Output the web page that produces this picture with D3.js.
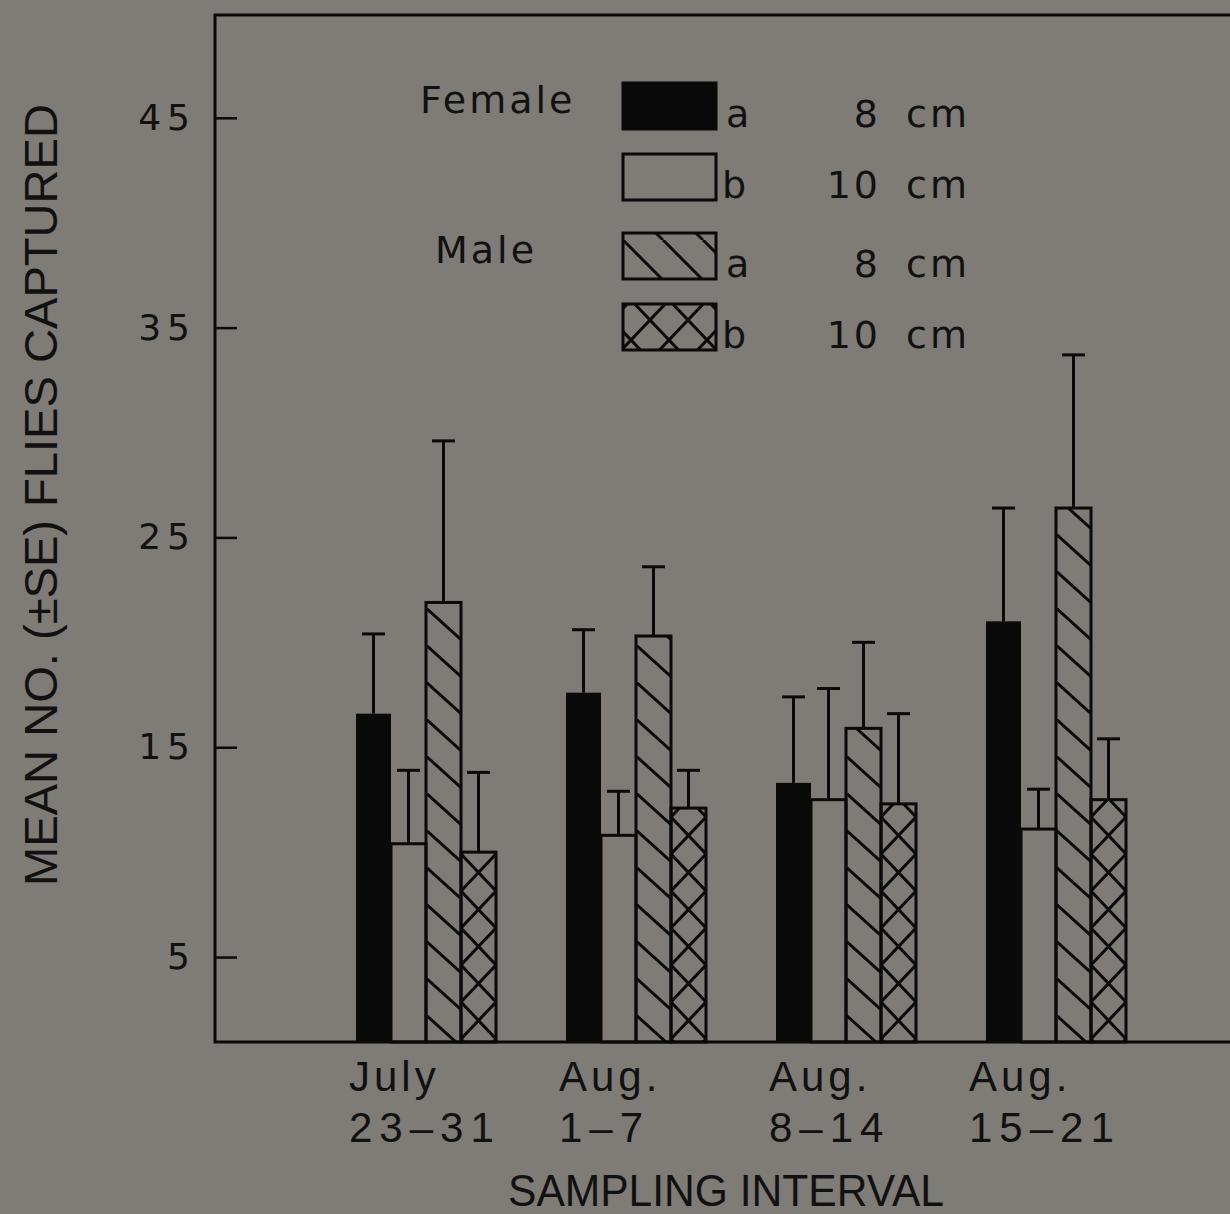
<!DOCTYPE html>
<html>
<head>
<meta charset="utf-8">
<script src="https://cdn.jsdelivr.net/npm/d3@7"></script>
<style>
  html, body { margin: 0; padding: 0; background: #7f7b76; }
  svg { display: block; }
  text { fill: #111; }
</style>
</head>
<body>
<div id="chart"></div>
<script>
/*global d3 */
(function () {
  "use strict";

  // sampling intervals (two-line labels)
  var intervalTop = ["July", "Aug.", "Aug.", "Aug."];
  var intervalBottom = ["23\u201331", "1\u20137", "8\u201314", "15\u201321"];

  // series: sex + trap height
  var seriesKeys = ["femaleA", "femaleB", "maleA", "maleB"];

  // means
  var femaleA = [16.6, 17.6, 13.3, 21.0];
  var femaleB = [10.4, 10.8, 12.5, 11.1];
  var maleA = [21.9, 20.3, 15.9, 26.4];
  var maleB = [10.0, 12.1, 12.3, 12.5];

  // standard errors (upper whisker only)
  var femaleASE = [3.8, 3.0, 4.1, 5.4];
  var femaleBSE = [3.5, 2.1, 5.3, 1.9];
  var maleASE = [7.7, 3.3, 4.1, 7.3];
  var maleBSE = [3.8, 1.8, 4.3, 2.9];

  var yTicks = [5, 15, 25, 35, 45];
  var yDomain = [0.95, 49.9];

  // legend
  var legendSex = ["Female", "", "Male", ""];
  var legendLetter = ["a", "b", "a", "b"];
  var legendSize = ["8 cm", "10 cm", "8 cm", "10 cm"];

  var means = { femaleA: femaleA, femaleB: femaleB, maleA: maleA, maleB: maleB };
  var ses = { femaleA: femaleASE, femaleB: femaleBSE, maleA: maleASE, maleB: maleBSE };

  var width = 1230, height = 1214;
  var left = 215, top = 15, bottom = 1042;
  var sans = "Liberation Sans, Arial, sans-serif";

  var svg = d3.select("#chart").append("svg")
    .attr("width", width)
    .attr("height", height);

  var defs = svg.append("defs");

  var x0 = d3.scaleBand()
    .domain(d3.range(intervalTop.length))
    .range([356, 1126])
    .paddingInner(1 / 3)
    .paddingOuter(0);

  var x1 = d3.scaleBand()
    .domain(seriesKeys)
    .range([0, x0.bandwidth()])
    .padding(0);

  var y = d3.scaleLinear().domain(yDomain).range([bottom, top]);

  // pattern helpers
  function hatchPattern(id, px, py, w, h) {
    var p = defs.append("pattern")
      .attr("id", id)
      .attr("patternUnits", "userSpaceOnUse")
      .attr("x", px).attr("y", py)
      .attr("width", w).attr("height", h);
    p.append("path")
      .attr("d", "M0,0L" + w + "," + h + "M" + (-w) + ",0L0," + h + "M" + w + ",0L" + (2 * w) + "," + h)
      .attr("stroke", "#0a0a0a")
      .attr("stroke-width", 3)
      .attr("fill", "none");
  }

  function crossPattern(id, px, py, w, h) {
    var p = defs.append("pattern")
      .attr("id", id)
      .attr("patternUnits", "userSpaceOnUse")
      .attr("x", px).attr("y", py)
      .attr("width", w).attr("height", h);
    p.append("path")
      .attr("d", "M0,0L" + w + "," + h + "M" + w + ",0L0," + h)
      .attr("stroke", "#0a0a0a")
      .attr("stroke-width", 3)
      .attr("fill", "none");
  }

  function fillFor(key, id) {
    if (key === "femaleA") { return "#0a0a0a"; }
    if (key === "femaleB") { return "none"; }
    return "url(#" + id + ")";
  }

  // build flat bar list
  var bars = [];
  intervalTop.forEach(function (t, i) {
    seriesKeys.forEach(function (k) {
      bars.push({ group: i, key: k, value: means[k][i], se: ses[k][i] });
    });
  });

  bars.forEach(function (d, n) {
    d.x = x0(d.group) + x1(d.key);
    d.w = x1.bandwidth();
    d.id = "pat" + n;
    if (d.key === "maleA") {
      hatchPattern(d.id, d.x, bottom - 27, 41, 37);
    } else if (d.key === "maleB") {
      crossPattern(d.id, d.x, bottom - 40, d.w, 37);
    }
  });

  var plot = svg.append("g");

  plot.selectAll("rect.bar")
    .data(bars)
    .enter().append("rect")
    .attr("class", "bar")
    .attr("x", function (d) { return d.x; })
    .attr("y", function (d) { return y(d.value); })
    .attr("width", function (d) { return d.w; })
    .attr("height", function (d) { return bottom - y(d.value); })
    .attr("fill", function (d) { return fillFor(d.key, d.id); })
    .attr("stroke", "#0a0a0a")
    .attr("stroke-width", function (d) { return d.key === "femaleA" ? 0 : 3; });

  // error bars
  var capW = 23;
  var err = plot.selectAll("g.err")
    .data(bars)
    .enter().append("g")
    .attr("class", "err")
    .attr("stroke", "#0a0a0a")
    .attr("stroke-width", 3);

  err.append("line")
    .attr("x1", function (d) { return d.x + d.w / 2; })
    .attr("x2", function (d) { return d.x + d.w / 2; })
    .attr("y1", function (d) { return y(d.value); })
    .attr("y2", function (d) { return y(d.value + d.se); });

  err.append("line")
    .attr("x1", function (d) { return d.x + d.w / 2 - capW / 2; })
    .attr("x2", function (d) { return d.x + d.w / 2 + capW / 2; })
    .attr("y1", function (d) { return y(d.value + d.se); })
    .attr("y2", function (d) { return y(d.value + d.se); });

  // frame
  svg.append("rect")
    .attr("x", left).attr("y", top)
    .attr("width", 1100).attr("height", bottom - top)
    .attr("fill", "none")
    .attr("stroke", "#0a0a0a")
    .attr("stroke-width", 3);

  // y axis
  var yAxis = d3.axisLeft(y)
    .tickValues(yTicks)
    .tickSize(-22)
    .tickSizeOuter(0)
    .tickPadding(19);

  var gy = svg.append("g")
    .attr("transform", "translate(" + left + ",0)")
    .call(yAxis);
  gy.select(".domain").remove();
  gy.selectAll(".tick line").attr("stroke", "#0a0a0a").attr("stroke-width", 2.5);
  gy.selectAll(".tick text")
    .attr("font-family", "DejaVu Sans, sans-serif")
    .attr("font-size", 36)
    .attr("letter-spacing", 6)
    .attr("fill", "#111");

  // category labels
  var xl = svg.append("g")
    .attr("font-family", sans)
    .attr("font-size", 42);

  xl.selectAll("text.top")
    .data(intervalTop)
    .enter().append("text")
    .attr("class", "top")
    .attr("x", function (d, i) { return x0(i) - 7 - (i === 3 ? 10 : 0); })
    .attr("y", 1091)
    .attr("letter-spacing", 4)
    .text(function (d) { return d; });

  xl.selectAll("text.bot")
    .data(intervalBottom)
    .enter().append("text")
    .attr("class", "bot")
    .attr("x", function (d, i) { return x0(i) - 7 - (i === 3 ? 10 : 0); })
    .attr("y", 1142)
    .attr("letter-spacing", 7)
    .text(function (d) { return d; });

  // axis titles
  svg.append("text")
    .attr("x", 726).attr("y", 1206)
    .attr("text-anchor", "middle")
    .attr("font-family", sans)
    .attr("font-size", 44)
    .attr("textLength", 436)
    .attr("lengthAdjust", "spacingAndGlyphs")
    .text("SAMPLING INTERVAL");

  svg.append("text")
    .attr("transform", "translate(57,495) rotate(-90)")
    .attr("text-anchor", "middle")
    .attr("font-family", sans)
    .attr("font-size", 47)
    .attr("textLength", 782)
    .attr("lengthAdjust", "spacingAndGlyphs")
    .text("MEAN NO. (\u00B1SE) FLIES CAPTURED");

  // legend
  var rowTop = function (i) { return 83 + i * 71 + (i >= 2 ? 8 : 0); };
  var swW = 93, swH = 46, swX = 623;

  hatchPattern("legA", swX, 0, 40, 40);
  crossPattern("legB", 650, 0, 38, 40);

  var lg = svg.append("g")
    .attr("font-family", "DejaVu Sans, sans-serif")
    .attr("font-size", 38);

  var rows = lg.selectAll("g.row")
    .data(seriesKeys)
    .enter().append("g")
    .attr("class", "row");

  rows.append("rect")
    .attr("x", swX)
    .attr("y", function (d, i) { return rowTop(i); })
    .attr("width", swW)
    .attr("height", swH)
    .attr("fill", function (d) {
      if (d === "femaleA") { return "#0a0a0a"; }
      if (d === "femaleB") { return "none"; }
      return d === "maleA" ? "url(#legA)" : "url(#legB)";
    })
    .attr("stroke", "#0a0a0a")
    .attr("stroke-width", 3);

  rows.append("text")
    .attr("x", function (d, i) { return i % 2 === 0 ? swX + swW + 10 : swX + swW + 6; })
    .attr("y", function (d, i) { return rowTop(i) + swH - 2; })
    .text(function (d, i) { return legendLetter[i]; });

  rows.append("text")
    .attr("x", 970)
    .attr("y", function (d, i) { return rowTop(i) + swH - 2; })
    .attr("text-anchor", "end")
    .attr("letter-spacing", 3)
    .attr("word-spacing", 10)
    .text(function (d, i) { return legendSize[i]; });

  rows.append("text")
    .attr("x", function (d, i) { return i === 0 ? 420 : 435; })
    .attr("y", function (d, i) { return rowTop(i) + 30; })
    .attr("letter-spacing", 3)
    .text(function (d, i) { return legendSex[i]; });
})();
</script>
</body>
</html>
